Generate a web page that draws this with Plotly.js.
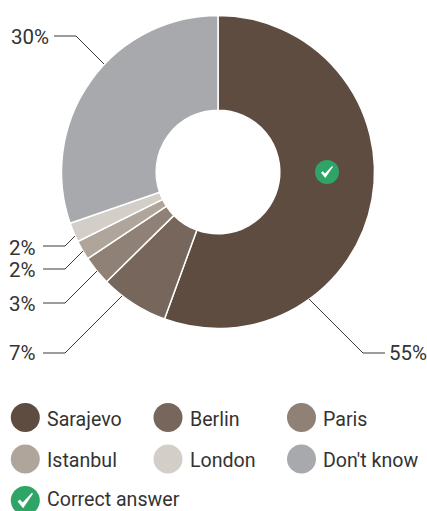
<!DOCTYPE html>
<html><head><meta charset="utf-8">
<script src="https://cdn.plot.ly/plotly-3.0.1.min.js"></script>
<style>html,body{margin:0;padding:0;background:#fff;overflow:hidden}#c{width:427px;height:511px}</style>
</head><body><div id="c"></div>
<script>
const categories = ["Sarajevo","Berlin","Paris","Istanbul","London","Don't know"];
const values = [55,7,3,2,2,30];
const colors = ["#5e4c40","#76665b","#8f8175","#afa59b","#d4cec9","#a7a9ac"];
const valueLabels = ["55%","7%","3%","2%","2%","30%"];
const correctAnswer = "Correct answer";

const W=427,H=511,FONT='Roboto, sans-serif',TXT='#333333';
const px=x=>x/W, py=y=>1-y/H;
const shapes=[],ann=[];
function line(points){
  shapes.push({type:'path',xref:'paper',yref:'paper',
    path:points.map((p,i)=>(i?'L':'M')+px(p[0])+','+py(p[1])).join(' '),
    line:{color:'#3a3a3a',width:1}});
}
function text(x,y,t,anchor,size){
  ann.push({xref:'paper',yref:'paper',x:px(x),y:py(y),text:t,showarrow:false,
    xanchor:anchor||'left',yanchor:'middle',font:{family:FONT,size:size||19.6,color:TXT},borderpad:0,borderwidth:0});
}
function circle(cx,cy,r,c){
  shapes.push({type:'circle',xref:'paper',yref:'paper',x0:px(cx-r),x1:px(cx+r),y0:py(cy+r),y1:py(cy-r),
    fillcolor:c,line:{width:0}});
}
function check(cx,cy,s){
  const pts=[[-7,1],[-5,-0.8],[-2.4,1.8],[6,-7],[7,-6.2],[-2,7]];
  shapes.push({type:'path',xref:'paper',yref:'paper',
    path:pts.map((p,i)=>(i?'L':'M')+px(cx+p[0]*s)+','+py(cy+p[1]*s)).join(' ')+' Z',
    fillcolor:'#ffffff',line:{width:0}});
}
line([[54,36],[76,36],[104,64]]);
line([[43,246],[65,246],[75,236]]);
line([[43,269],[65,269],[83,251]]);
line([[43,303],[65,303],[97,271]]);
line([[43,353],[65,353],[122,296]]);
line([[309,299],[363,353],[385,353]]);
text(49,37,valueLabels[5],'right',20.5);
text(36,248,valueLabels[4],'right',20.5);
text(36,270,valueLabels[3],'right',20.5);
text(36,303.5,valueLabels[2],'right',20.5);
text(36,352.5,valueLabels[1],'right',20.5);
text(389,352.5,valueLabels[0],'left',20.5);
const lx=[25.3,168,301.5], ly=[417.5,459];
const tx=[47,190,323];
categories.forEach((c,i)=>{
  const col=i%3,row=Math.floor(i/3);
  circle(lx[col],ly[row],14.5,colors[i]);
  text(tx[col],ly[row]+1.5,c);
});
circle(25.3,500.5,14.5,'#2ea566');
check(25.3,500.5,1.1);
text(47,499.5,correctAnswer);
circle(327,172,12,'#2ea566');
check(327,172,0.85);

Plotly.newPlot('c',[{
  type:'pie',labels:categories,values:values,sort:false,direction:'clockwise',rotation:0,
  hole:0.395,marker:{colors:colors,line:{color:'#ffffff',width:1.5}},
  textinfo:'none',hoverinfo:'none',showlegend:false,
  domain:{x:[px(61.5),px(374.5)],y:[py(328.5),py(15.5)]}
}],{
  width:W,height:H,margin:{l:0,r:0,t:0,b:0},paper_bgcolor:'#fff',showlegend:false,
  shapes:shapes,annotations:ann
},{displayModeBar:false,staticPlot:true});
</script></body></html>
